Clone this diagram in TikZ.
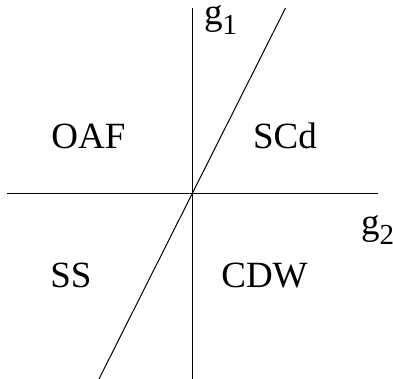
\documentclass[tikz,border=0pt]{standalone}
\usepackage{fontspec}
\setmainfont{Liberation Serif}
\usetikzlibrary{positioning}
\tikzset{
  axis/.style={line width=1pt, color=black},
  phase/.style={font=\fontsize{37}{40}\selectfont, inner sep=0pt, anchor=base},
  axlabel/.style={font=\fontsize{37}{40}\selectfont, inner sep=0pt, anchor=base west}
}
\newcommand{\gsub}[1]{g\raisebox{-10pt}{\fontsize{29}{30}\selectfont #1}}

\begin{document}
\begin{tikzpicture}[x=1pt, y=-1pt]
  \useasboundingbox (0,0) rectangle (393,379);

  % Origin and axis ends
  \coordinate (O) at (192,194);
  \coordinate (xl) at (7,194);
  \coordinate (xr) at (378,194);
  \coordinate (yt) at (192,8);
  \coordinate (yb) at (192,379);
  \coordinate (dt) at (285.5,8);
  \coordinate (db) at (99,379);

  % Axes
  \draw[axis] (xl) -- (xr);
  \draw[axis] (yt) -- (yb);

  % Phase boundary
  \draw[axis] (db) -- (O) -- (dt);

  % Axis labels
  \node[axlabel] (g1) at (204,25) {\gsub{1}};
  \node[axlabel] (g2) at (361,234) {\gsub{2}};

  % Phases
  \node[phase] (oaf) at (88.5,149) {OAF};
  \node[phase] (scd) at (285,149) {SCd};
  \node[phase] (ss) at (71,287) {SS};
  \node[phase] (cdw) at (264.5,287) {CDW};
\end{tikzpicture}
\end{document}
